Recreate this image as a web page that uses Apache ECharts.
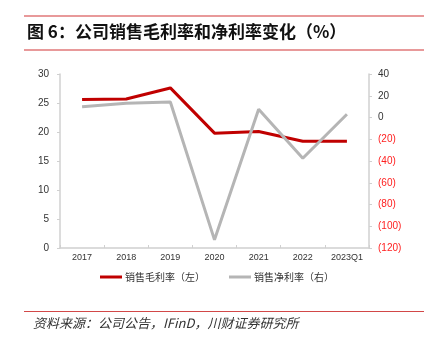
<!DOCTYPE html>
<html><head><meta charset="utf-8">
<script src="https://cdn.jsdelivr.net/npm/echarts@6/dist/echarts.min.js"></script>
<style>html,body{margin:0;padding:0;background:#fff}#c{width:434px;height:340px}</style>
</head><body><div id="c"></div>
<script>
const categories = ['2017','2018','2019','2020','2021','2022','2023Q1'];
const grossMargin = [25.6, 25.7, 27.6, 19.8, 20.1, 18.4, 18.4];
const netMargin = [9.9, 13.2, 14.2, -112.5, 7.5, -37.5, 3.0];
const leftTicks = [0, 30, 5];
const rightTicks = [-120, 40, 20];
const titleText = '图 6：公司销售毛利率和净利率变化（%）';
const sourceText = '资料来源：公司公告，IFinD，川财证券研究所';
const legendNames = ['销售毛利率（左）', '销售净利率（右）'];

const chart = echarts.init(document.getElementById('c'), null, {renderer: 'canvas'});
const axisGray = '#d0d0d0';
chart.setOption({
  animation: false,
  textStyle: {fontFamily: 'Arial, "Liberation Sans", "Noto Sans CJK SC", sans-serif'},
  grid: {left: 60, right: 65, top: 74, bottom: 92},
  legend: {
    top: 267, left: 'center',
    itemWidth: 22, itemHeight: 3, itemGap: 24,
    icon: 'rect',
    textStyle: {fontSize: 10, color: '#333', fontFamily: '"Noto Sans CJK SC", sans-serif', padding: [0,0,0,-2]},
    data: legendNames
  },
  xAxis: {
    type: 'category', data: categories, boundaryGap: true,
    axisLine: {lineStyle: {color: axisGray, width: 1.5}},
    axisTick: {show: true, inside: true, length: 3, lineStyle: {color: axisGray}},
    axisLabel: {fontSize: 9, color: '#333', margin: 5}
  },
  yAxis: [{
    type: 'value', min: leftTicks[0], max: leftTicks[1], interval: leftTicks[2],
    splitLine: {show: false},
    axisLine: {show: true, lineStyle: {color: axisGray, width: 1.5}},
    axisTick: {show: true, length: 3, lineStyle: {color: axisGray}},
    axisLabel: {fontSize: 10, color: '#333', margin: 11}
  }, {
    type: 'value', min: rightTicks[0], max: rightTicks[1], interval: rightTicks[2],
    splitLine: {show: false},
    axisLine: {show: true, lineStyle: {color: axisGray, width: 1.5}},
    axisTick: {show: true, length: 3, lineStyle: {color: axisGray}},
    axisLabel: {
      fontSize: 10, margin: 9, color: '#333',
      formatter: v => v < 0 ? '{n|(' + (-v) + ')}' : String(v),
      rich: {n: {color: '#ff2020', fontSize: 10}}
    }
  }],
  series: [{
    name: legendNames[0], type: 'line', yAxisIndex: 0, data: grossMargin,
    symbol: 'none', lineStyle: {color: '#c00000', width: 3}, itemStyle: {color: '#c00000'}
  }, {
    name: legendNames[1], type: 'line', yAxisIndex: 1, data: netMargin,
    symbol: 'none', lineStyle: {color: '#b5b5b5', width: 3}, itemStyle: {color: '#b5b5b5'}
  }],
  graphic: [
    {type: 'line', shape: {x1: 24, y1: 16, x2: 424, y2: 16}, style: {stroke: '#e8999a', lineWidth: 2}},
    {type: 'line', shape: {x1: 24, y1: 50, x2: 424, y2: 50}, style: {stroke: '#e8999a', lineWidth: 2}},
    {type: 'text', left: 27, top: 23, style: {text: titleText, font: 'bold 17px "Noto Sans CJK SC", sans-serif', fill: '#111'}},
    {type: 'line', shape: {x1: 24, y1: 311.5, x2: 424, y2: 311.5}, style: {stroke: '#d24848', lineWidth: 1}},
    {type: 'text', left: 33, top: 317, style: {text: sourceText, font: 'italic 13px "Noto Sans CJK SC", sans-serif', fill: '#333'}}
  ]
});
</script></body></html>
